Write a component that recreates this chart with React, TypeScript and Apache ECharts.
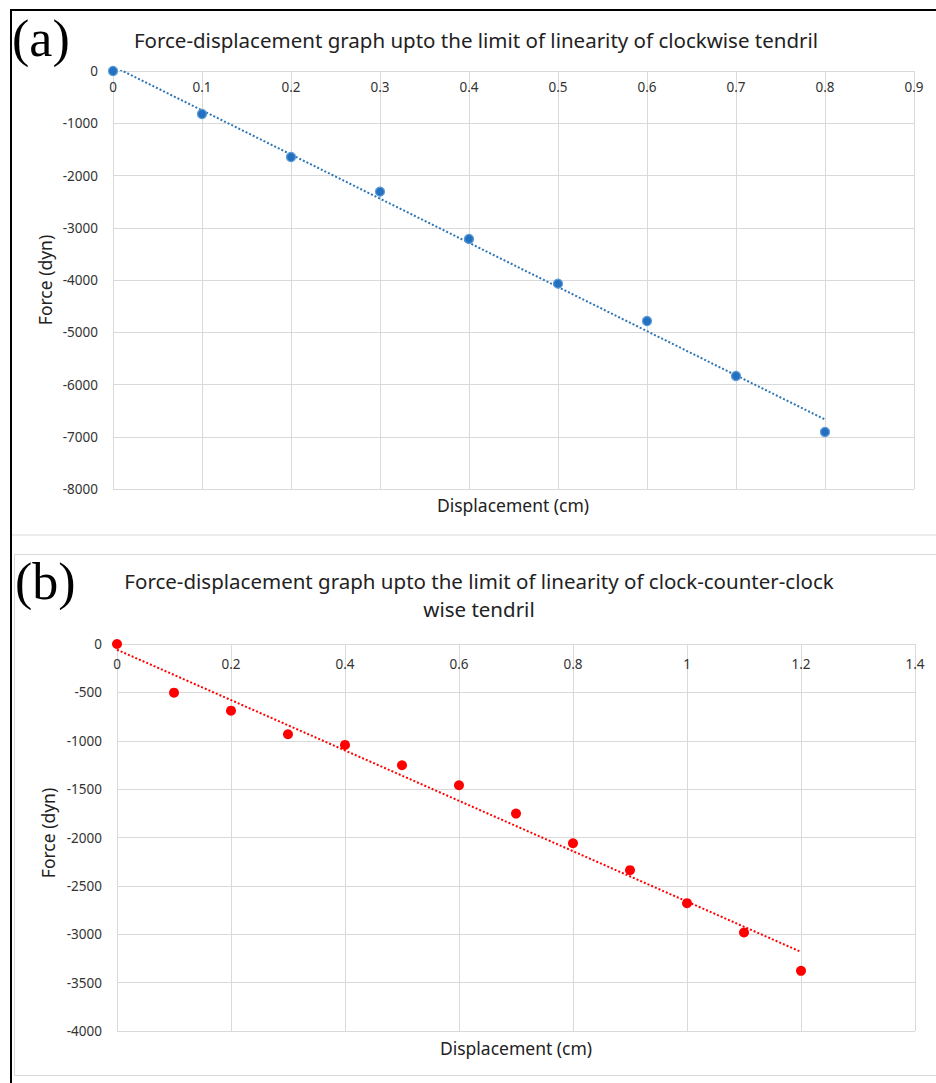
import React, { useEffect, useRef } from "react";
import * as echarts from "echarts";

// Panel (a): clockwise tendril
const dispA = [0, 0.1, 0.2, 0.3, 0.4, 0.5, 0.6, 0.7, 0.8];
const forceA = [0, -823, -1646, -2310, -3215, -4070, -4785, -5837, -6909];
const xRangeA = [0, 0.9, 0.1];
const yRangeA = [-8000, 0, 1000];

// Panel (b): clock-counter-clockwise tendril
const dispB = [0, 0.1, 0.2, 0.3, 0.4, 0.5, 0.6, 0.7, 0.8, 0.9, 1.0, 1.1, 1.2];
const forceB = [0, -503, -689, -933, -1043, -1253, -1460, -1753, -2059, -2338, -2679, -2982, -3378];
const xRangeB = [0, 1.4, 0.2];
const yRangeB = [-4000, 0, 500];

const titleA = "Force-displacement graph upto the limit of linearity of clockwise tendril";
const titleB1 = "Force-displacement graph upto the limit of linearity of clock-counter-clock";
const titleB2 = "wise tendril";
const xName = "Displacement (cm)";
const yName = "Force (dyn)";

function linearFit(xs: number[], ys: number[]) {
  const n = xs.length;
  const mx = xs.reduce((a, b) => a + b, 0) / n;
  const my = ys.reduce((a, b) => a + b, 0) / n;
  let sxy = 0, sxx = 0;
  for (let i = 0; i < n; i++) {
    sxy += (xs[i] - mx) * (ys[i] - my);
    sxx += (xs[i] - mx) * (xs[i] - mx);
  }
  const slope = sxy / sxx;
  const icpt = my - slope * mx;
  const x0 = xs[0], x1 = xs[n - 1];
  return [[x0, icpt + slope * x0], [x1, icpt + slope * x1]];
}

const FONT = "'Noto Sans', sans-serif";
const GRID_COLOR = "#d9d9d9";
const LABEL_COLOR = "#333333";
const TEXT_COLOR = "#222222";
const fmt = (v: number) => String(Math.round(v * 1000) / 1000);

export default function App() {
  const ref = useRef<HTMLDivElement>(null);
  useEffect(() => {
    document.body.style.margin = "0";
    const chart = echarts.init(ref.current!, null, { renderer: "svg" });
    const xAxisCommon = (r: number[], gridIndex: number, margin: number) => ({
      type: "value" as const,
      gridIndex,
      min: r[0],
      max: r[1],
      interval: r[2],
      position: "top" as const,
      axisLine: { show: true, onZero: false, lineStyle: { color: GRID_COLOR, width: 1 } },
      axisTick: { show: false },
      axisLabel: { inside: true, color: LABEL_COLOR, fontSize: 13.5, fontFamily: FONT, margin, formatter: fmt },
      splitLine: { show: true, lineStyle: { color: GRID_COLOR, width: 1 } },
    });
    const yAxisCommon = (r: number[], gridIndex: number) => ({
      type: "value" as const,
      gridIndex,
      min: r[0],
      max: r[1],
      interval: r[2],
      axisLine: { show: true, onZero: false, lineStyle: { color: GRID_COLOR, width: 1 } },
      axisTick: { show: false },
      axisLabel: { color: LABEL_COLOR, fontSize: 13.5, fontFamily: FONT, margin: 15, formatter: fmt },
      splitLine: { show: true, lineStyle: { color: GRID_COLOR, width: 1 } },
    });
    const fitA = linearFit(dispA, forceA);
    const fitB = linearFit(dispB, forceB);
    chart.setOption({
      animation: false,
      backgroundColor: "#ffffff",
      grid: [
        { left: 113, right: 22, top: 71, height: 418 },
        { left: 117, right: 21, top: 644, height: 387 },
      ],
      xAxis: [xAxisCommon(xRangeA, 0, 9), xAxisCommon(xRangeB, 1, 13)],
      yAxis: [yAxisCommon(yRangeA, 0), yAxisCommon(yRangeB, 1)],
      series: [
        {
          type: "line",
          xAxisIndex: 0,
          yAxisIndex: 0,
          data: fitA,
          symbol: "none",
          lineStyle: { color: "#2E75B6", width: 2, type: [2, 2] },
          z: 2,
        },
        {
          type: "scatter",
          xAxisIndex: 0,
          yAxisIndex: 0,
          data: dispA.map((x, i) => [x, forceA[i]]),
          symbolSize: 9,
          itemStyle: { color: "#2470C0", borderColor: "#5B9BD5", borderWidth: 1.2, opacity: 1 },
          z: 3,
        },
        {
          type: "line",
          xAxisIndex: 1,
          yAxisIndex: 1,
          data: fitB,
          symbol: "none",
          lineStyle: { color: "#FF0000", width: 2, type: [2, 2] },
          z: 2,
        },
        {
          type: "scatter",
          xAxisIndex: 1,
          yAxisIndex: 1,
          data: dispB.map((x, i) => [x, forceB[i]]),
          symbolSize: 10,
          itemStyle: { color: "#FF0000", opacity: 1 },
          z: 3,
        },
      ],
      graphic: [
        { type: "line", shape: { x1: 10, y1: 10, x2: 936, y2: 10 }, style: { stroke: "#000", lineWidth: 2 } },
        { type: "line", shape: { x1: 11, y1: 10, x2: 11, y2: 1083 }, style: { stroke: "#000", lineWidth: 2 } },
        { type: "line", shape: { x1: 12, y1: 535, x2: 936, y2: 535 }, style: { stroke: GRID_COLOR, lineWidth: 1 } },
        { type: "rect", shape: { x: 14.5, y: 554.5, width: 930, height: 521 }, style: { stroke: GRID_COLOR, fill: "none", lineWidth: 1 } },
        { type: "text", x: 12, y: 12, style: { text: "(a)", font: "52px 'Liberation Serif', serif", fill: "#000" } },
        { type: "text", x: 15, y: 555, style: { text: "(b)", font: "52px 'Liberation Serif', serif", fill: "#000" } },
        { type: "text", x: 476, y: 40, style: { text: titleA, font: `20.5px ${FONT}`, fill: TEXT_COLOR, align: "center", verticalAlign: "middle" } },
        { type: "text", x: 479, y: 581, style: { text: titleB1, font: `20.5px ${FONT}`, fill: TEXT_COLOR, align: "center", verticalAlign: "middle" } },
        { type: "text", x: 479, y: 609, style: { text: titleB2, font: `20.5px ${FONT}`, fill: TEXT_COLOR, align: "center", verticalAlign: "middle" } },
        { type: "text", x: 513, y: 505, style: { text: xName, font: `17.5px ${FONT}`, fill: TEXT_COLOR, align: "center", verticalAlign: "middle" } },
        { type: "text", x: 516, y: 1048, style: { text: xName, font: `17.5px ${FONT}`, fill: TEXT_COLOR, align: "center", verticalAlign: "middle" } },
        { type: "text", x: 45, y: 280, rotation: Math.PI / 2, style: { text: yName, font: `17.5px ${FONT}`, fill: TEXT_COLOR, align: "center", verticalAlign: "middle" } },
        { type: "text", x: 48, y: 833, rotation: Math.PI / 2, style: { text: yName, font: `17.5px ${FONT}`, fill: TEXT_COLOR, align: "center", verticalAlign: "middle" } },
      ],
    });
    return () => chart.dispose();
  }, []);
  return <div ref={ref} style={{ position: "absolute", left: 0, top: 0, width: 936, height: 1083 }} />;
}
